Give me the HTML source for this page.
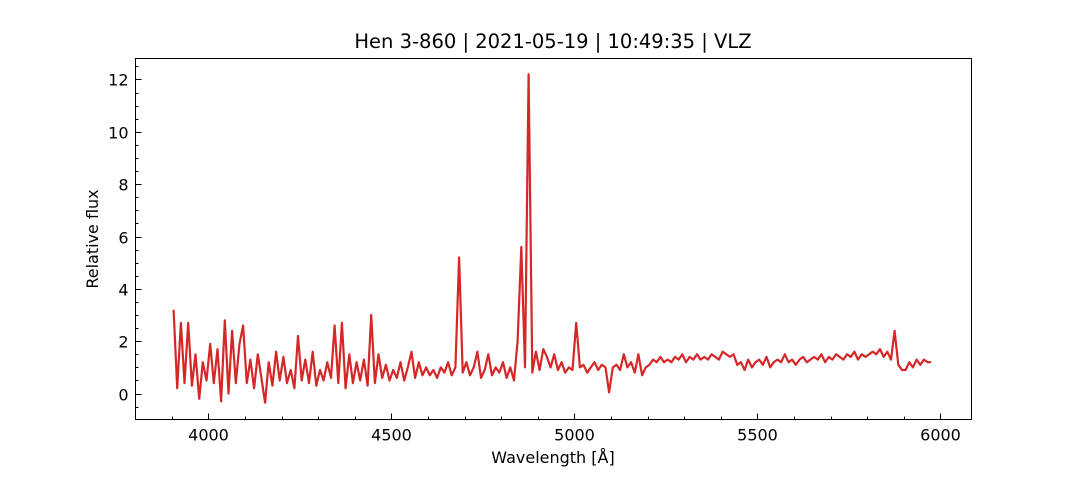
<!DOCTYPE html>
<html><head><meta charset="utf-8"><style>
body{margin:0;background:#fff;font-family:"DejaVu Sans","Liberation Sans",sans-serif}
</style></head><body>
<svg id="chart" width="1080" height="480" xmlns="http://www.w3.org/2000/svg" font-family="DejaVu Sans, Liberation Sans, sans-serif">
<rect width="1080" height="480" fill="#fff"/>
<text x="553" y="48" text-anchor="middle" font-size="19.5" fill="#000">Hen 3-860 | 2021-05-19 | 10:49:35 | VLZ</text>
<g id="ticks"></g>
<path id="series" fill="none" stroke="#d62728" stroke-width="2.2" stroke-linejoin="round"/>
<rect x="135.5" y="58.5" width="836" height="361" fill="none" stroke="#000" stroke-width="1"/>
<text x="553" y="463" text-anchor="middle" font-size="16">Wavelength [Å]</text>
<text transform="translate(98,239) rotate(-90)" text-anchor="middle" font-size="16">Relative flux</text>
</svg>
<script>
const wlStart = 3905;
const wlStep = 10;
const flux = [
3.2,0.2,2.7,0.4,2.7,0.3,1.5,-0.2,1.2,0.5,
1.9,0.4,1.7,-0.3,2.8,0.0,2.4,0.4,1.9,2.6,
0.4,1.3,0.2,1.5,0.6,-0.35,1.2,0.3,1.6,0.5,
1.4,0.4,0.9,0.2,2.2,0.5,1.3,0.4,1.6,0.3,
0.9,0.5,1.2,0.6,2.6,0.4,2.7,0.2,1.5,0.4,
1.2,0.5,1.3,0.3,3.0,0.4,1.5,0.6,1.1,0.5,
0.9,0.6,1.2,0.5,1.0,1.6,0.6,1.2,0.7,1.0,
0.7,0.9,0.6,1.0,0.8,1.2,0.7,1.0,5.2,0.8,
1.2,0.7,1.0,1.6,0.6,0.9,1.5,0.7,1.0,0.8,
1.2,0.6,1.0,0.5,2.0,5.6,1.0,12.2,0.8,1.6,
0.9,1.7,1.4,1.0,1.5,0.9,1.2,0.8,1.0,0.9,
2.7,1.0,1.1,0.8,1.0,1.2,0.9,1.1,1.0,0.05,
1.0,1.1,0.9,1.5,1.0,1.2,0.8,1.5,0.7,1.0,
1.1,1.3,1.2,1.4,1.2,1.3,1.2,1.4,1.3,1.5,
1.2,1.4,1.3,1.5,1.3,1.4,1.3,1.5,1.4,1.3,
1.6,1.5,1.4,1.5,1.1,1.2,0.9,1.3,1.0,1.2,
1.3,1.1,1.4,1.0,1.2,1.3,1.2,1.5,1.2,1.3,
1.1,1.3,1.4,1.2,1.3,1.4,1.3,1.5,1.2,1.4,
1.3,1.5,1.4,1.3,1.5,1.4,1.6,1.3,1.5,1.4,
1.5,1.6,1.5,1.7,1.4,1.6,1.3,2.4,1.1,0.9,
0.9,1.2,1.0,1.3,1.1,1.3,1.2,1.2
];
const xTicks = [4000,4500,5000,5500,6000];
const yTicks = [0,2,4,6,8,10,12];

const X0=135.5, X1=971.5, Y0=58.5, Y1=419.5;
const xMin=3801, xMax=6085, yMin=-0.99, yMax=12.8;
const sx = v => X0 + (v - xMin) / (xMax - xMin) * (X1 - X0);
const sy = v => Y1 - (v - yMin) / (yMax - yMin) * (Y1 - Y0);

let d = '';
flux.forEach((f,i)=>{ const w = wlStart + i*wlStep; d += (i?'L':'M') + sx(w).toFixed(1) + ',' + sy(f).toFixed(1); });
document.getElementById('series').setAttribute('d', d);

const NS='http://www.w3.org/2000/svg';
const g=document.getElementById('ticks');
function line(x1,y1,x2,y2){const l=document.createElementNS(NS,'line');l.setAttribute('x1',x1);l.setAttribute('y1',y1);l.setAttribute('x2',x2);l.setAttribute('y2',y2);l.setAttribute('stroke','#000');l.setAttribute('stroke-width','1');


g.appendChild(l);}
function text(x,y,s,anchor,name){const t=document.createElementNS(NS,'text');t.setAttribute('x',x);t.setAttribute('y',y);t.setAttribute('text-anchor',anchor);t.setAttribute('font-size','16');t.textContent=s;


g.appendChild(t);}
xTicks.forEach(v=>{const x=Math.round(sx(v))+0.5;line(x,Y1,x,Y1-6);text(x,Y1+21,String(v),'middle','x-tick-label');});
for(let v=3900;v<=6000;v+=100){if(v%500){const x=Math.round(sx(v))+0.5;line(x,Y1,x,Y1-3);}}
yTicks.forEach(v=>{const y=Math.round(sy(v))+0.5;line(X0,y,X0+6,y);text(X0-7,y+6,String(v),'end','y-tick-label');});
for(let v=-0.5;v<=12.5;v+=0.5){if(v%2){const y=Math.round(sy(v))+0.5;line(X0,y,X0+3,y);}}
</script>
</body></html>
